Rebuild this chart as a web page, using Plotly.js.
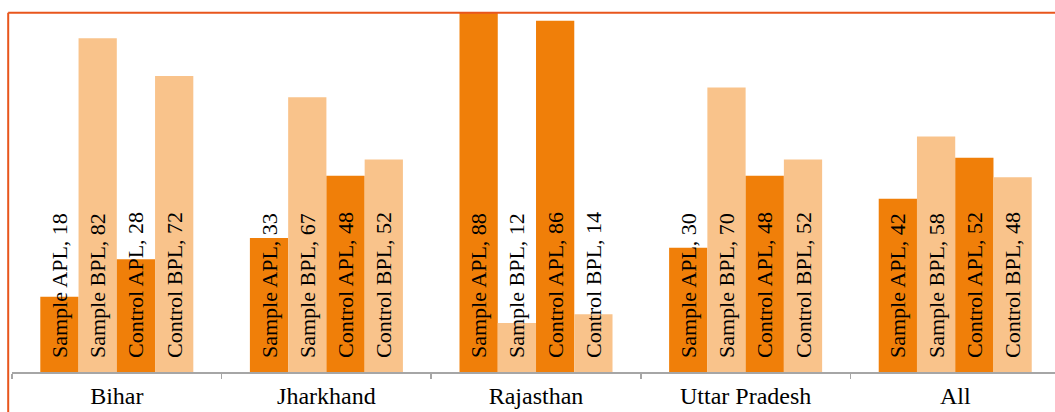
<!DOCTYPE html>
<html>
<head>
<meta charset="utf-8">
<script src="https://cdn.plot.ly/plotly-3.0.1.min.js"></script>
<style>
  html, body { margin: 0; padding: 0; background: #fff; overflow: hidden; }
  #chart { width: 1055px; height: 412px; }
</style>
</head>
<body>
<div id="chart"></div>
<script>
// ---- data ----
const states = ['Bihar', 'Jharkhand', 'Rajasthan', 'Uttar Pradesh', 'All'];
const sampleAPL  = [18.4, 32.8, 88.1, 30.4, 42.4];
const sampleBPL  = [81.6, 67.2, 12.0, 69.6, 57.6];
const controlAPL = [27.6, 48.0, 85.9, 48.0, 52.4];
const controlBPL = [72.4, 52.0, 14.1, 52.0, 47.6];
const seriesNames = ['Sample APL', 'Sample BPL', 'Control APL', 'Control BPL'];

const DARK = '#F07F09';
const LIGHT = '#F9C38B';
const colors = [DARK, LIGHT, DARK, LIGHT];
const seriesValues = [sampleAPL, sampleBPL, controlAPL, controlBPL];
const FONT = '"Liberation Serif", "Times New Roman", serif';
const PAD = '\u00A0\u00A0';

const traces = seriesValues.map((vals, i) => ({
  type: 'bar',
  name: seriesNames[i],
  x: states,
  y: vals,
  marker: { color: colors[i], line: { width: 0 } },
  text: vals.map(v => PAD + seriesNames[i] + ', ' + Math.round(v)),
  textposition: 'inside',
  insidetextanchor: 'start',
  textangle: -90,
  constraintext: 'none',
  insidetextfont: { family: FONT, size: 22, color: '#000' },
  textfont: { family: FONT, size: 22, color: '#000' },
  hoverinfo: 'none'
}));

const W = 1043, H = 359;
const bx = (8.2 - 12) / W;
const ty = (372 - 12.7) / H;

const layout = {
  width: 1055,
  height: 412,
  margin: { l: 12, r: 0, t: 13, b: 40, pad: 0 },
  paper_bgcolor: '#fff',
  plot_bgcolor: '#fff',
  showlegend: false,
  barmode: 'group',
  bargap: 0.27,
  bargroupgap: 0,
  xaxis: {
    type: 'category',
    range: [-0.5, 4.476],
    showline: true,
    linecolor: '#A6A6A6',
    linewidth: 1.5,
    ticks: 'outside',
    tickson: 'boundaries',
    ticklen: 5,
    tickwidth: 1.5,
    tickcolor: '#A6A6A6',
    ticklabelstandoff: 2,
    showgrid: false,
    zeroline: false,
    tickfont: { family: FONT, size: 24, color: '#000' },
    fixedrange: true
  },
  yaxis: {
    range: [0, 87.8],
    visible: false,
    showgrid: false,
    zeroline: false,
    fixedrange: true
  },
  shapes: [
    { type: 'line', xref: 'paper', yref: 'paper', x0: bx, x1: bx, y0: -0.2, y1: ty,
      line: { color: '#E8561C', width: 2 }, layer: 'above' },
    { type: 'line', xref: 'paper', yref: 'paper', x0: bx, x1: 1.02, y0: ty, y1: ty,
      line: { color: '#E8561C', width: 2 }, layer: 'above' }
  ]
};

Plotly.newPlot('chart', traces, layout, { displayModeBar: false, staticPlot: true });
</script>
</body>
</html>
